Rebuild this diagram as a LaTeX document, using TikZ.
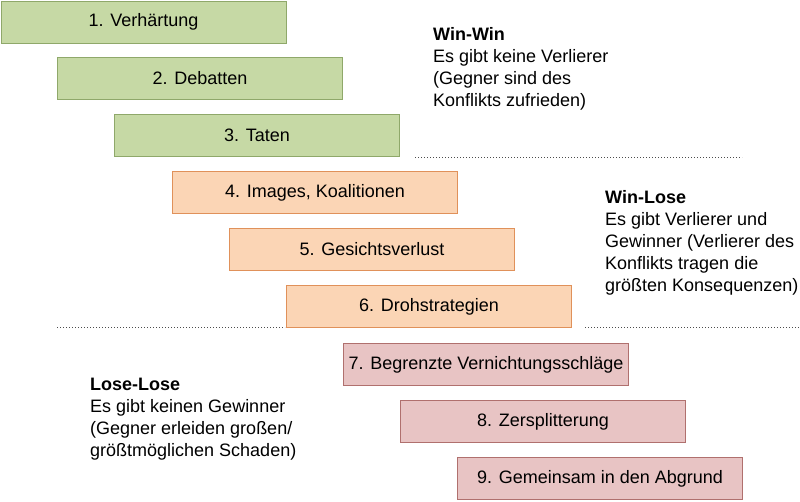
\documentclass[tikz,border=0pt]{standalone}
\usepackage{fontspec}
\setmainfont{Liberation Sans}
\definecolor{gf}{HTML}{C6D9A5}\definecolor{gd}{HTML}{8FA86A}
\definecolor{of}{HTML}{FBD5B5}\definecolor{od}{HTML}{E0915A}
\definecolor{pf}{HTML}{E8C4C4}\definecolor{pd}{HTML}{B0706E}
\begin{document}
\begin{tikzpicture}[x=1pt,y=-1pt,
  stage/.style={draw,line width=1pt,minimum width=285pt,minimum height=42pt,inner sep=0pt,font=\fontsize{18}{21}\selectfont,anchor=north west},
  g/.style={stage,fill=gf,draw=gd},o/.style={stage,fill=of,draw=od},p/.style={stage,fill=pf,draw=pd},
  lbl/.style={anchor=north west,align=left,inner sep=0pt,font=\fontsize{18}{22}\selectfont},
  sep/.style={dotted,line width=1pt,black!70}]
\useasboundingbox (0,0) rectangle (800,501);
\node[g] (s1) at (0.5,0.5) {1. Verhärtung};
\node[g] (s2) at (57,57) {2. Debatten};
\node[g] (s3) at (114,114) {3. Taten};
\node[o] (s4) at (172,171) {4. Images, Koalitionen};
\node[o] (s5) at (229,228) {5. Gesichtsverlust};
\node[o] (s6) at (286,285) {6. Drohstrategien};
\node[p] (s7) at (343,343) {7. Begrenzte Vernichtungsschläge};
\node[p] (s8) at (400,400) {8. Zersplitterung};
\node[p] (s9) at (457,457) {9. Gemeinsam in den Abgrund};
\coordinate (d1a) at (415,157); \coordinate (d1b) at (742,157);
\coordinate (d2a) at (57,327); \coordinate (d2b) at (285,327);
\coordinate (d3a) at (585,327); \coordinate (d3b) at (800,327);
\draw[sep] (d1a)--(d1b); \draw[sep] (d2a)--(d2b); \draw[sep] (d3a)--(d3b);
\node[lbl] (ww) at (433,27) {\textbf{Win-Win}\\Es gibt keine Verlierer\\(Gegner sind des\\Konflikts zufrieden)};
\node[lbl] (wl) at (605,190) {\textbf{Win-Lose}\\Es gibt Verlierer und\\Gewinner (Verlierer des\\Konflikts tragen die\\größten Konsequenzen)};
\node[lbl] (ll) at (90,378) {\textbf{Lose-Lose}\\Es gibt keinen Gewinner\\(Gegner erleiden großen/\\größtmöglichen Schaden)};
\end{tikzpicture}
\end{document}
